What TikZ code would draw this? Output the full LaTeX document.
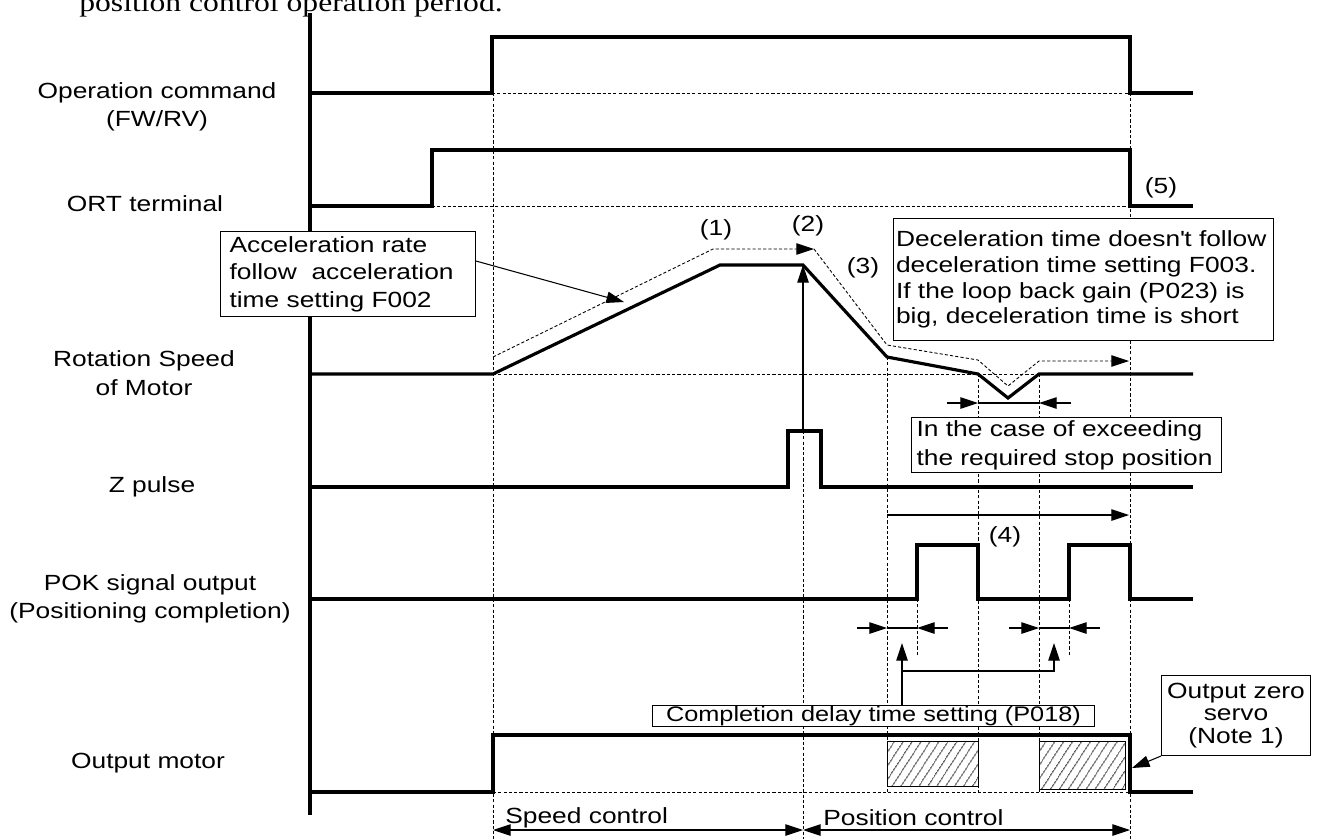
\documentclass[tikz,border=0pt]{standalone}
\usepackage{fontspec}
\setmainfont{Liberation Sans}[FakeStretch=1.2]
\newfontfamily\headfont{Liberation Serif}[FakeStretch=1.2]
\usetikzlibrary{arrows.meta,patterns.meta}
\tikzset{every node/.style={inner sep=0pt, font=\fontsize{12.5}{16.2}\selectfont},
  wave/.style={line width=1.8pt, line join=miter},
  guide/.style={line width=0.5pt, dash pattern=on 1.8pt off 1.2pt},
  pointer/.style={line width=0.6pt, -{Triangle[length=10pt,width=6.5pt]}},
  span/.style={line width=0.6pt, {Triangle[length=10pt,width=6.5pt]}-{Triangle[length=10pt,width=6.5pt]}},
  notebox/.style={draw, line width=0.6pt, fill=white, anchor=north west, align=left, inner ysep=0pt},
  hatch/.style={line width=0.5pt, pattern={Lines[angle=57,distance=4pt,line width=0.45pt]}}}

\begin{document}
\begin{tikzpicture}[x=0.02cm, y=-0.02cm]
  \useasboundingbox (0,0) rectangle (1318,839);

  % heading cut by the page edge
  \node[anchor=base west, font=\headfont\fontsize{15}{18}\selectfont] (head) at (79,11) {position control operation period.};

  % signal names
  \node[align=center] (lblrun)   at (157,107) {Operation command\\(FW/RV)};
  \node               (lblort)   at (145,204) {ORT terminal};
  \node[align=center] (lblspeed) at (144,373) {Rotation Speed\\of Motor};
  \node               (lblz)     at (152,487) {Z pulse};
  \node[align=center] (lblpok)   at (150,599) {POK signal output\\(Positioning completion)};
  \node               (lblout)   at (148,763) {Output motor};

  % time guides
  \draw[guide] (492,93) -- (1130,93);
  \draw[guide] (432,206) -- (1130,206);
  \draw[guide] (493,374) -- (1039,374);
  \draw[guide] (493,792) -- (1130,792);
  \draw[guide] (493,93) -- (493,839);
  \draw[guide] (1130,93) -- (1130,839);
  \draw[guide] (803,431) -- (803,839);
  \foreach \t/\y in {887/357,978/374,1039/374}
    \draw[guide] (\t,\y) -- (\t,792);
  \foreach \t in {917,1069}
    \draw[guide] (\t,599) -- (\t,655);

  % commanded speed profile
  \draw[guide,-{Triangle[length=10pt,width=6.5pt]}] (493,357) -- (713,249) -- (814,249);
  \draw[guide,-{Triangle[length=10pt,width=6.5pt]}] (814,249) -- (887,345) -- (978,360) -- (1008,386) -- (1039,361) -- (1129,361);

  % waveforms
  \draw[line width=1.9pt] (310,13) -- (310,815);
  \draw[wave] (310,93) -- (492,93) -- (492,37) -- (1130,37) -- (1130,93) -- (1193,93);
  \draw[wave] (310,206) -- (432,206) -- (432,150) -- (1130,150) -- (1130,206) -- (1193,206);
  \draw[wave] (310,374) -- (493,374) -- (720,265) -- (803,265) -- (887,357) -- (978,374) -- (1008,398) -- (1039,374) -- (1193,374);
  \draw[wave] (310,487) -- (788,487) -- (788,431) -- (821,431) -- (821,487) -- (1193,487);
  \draw[wave] (310,599) -- (917,599) -- (917,545) -- (978,545) -- (978,599) -- (1069,599) -- (1069,545) -- (1130,545) -- (1130,599) -- (1193,599);
  \draw[wave] (310,792) -- (493,792) -- (493,735) -- (1130,735) -- (1130,792) -- (1193,792);
  \draw[hatch] (887,741) rectangle (978,786);
  \draw[hatch] (1039,741) rectangle (1125,789);

  % marks
  \node (mark1) at (716,230) {(1)};
  \node (mark2) at (808,226) {(2)};
  \node (mark3) at (863,268) {(3)};
  \node (mark4) at (1005,537) {(4)};
  \node (mark5) at (1161,188) {(5)};

  % Z pulse to speed top, stop window
  \draw[pointer] (803,431) -- (803,265);
  \draw[pointer] (887,515) -- (1129,515);
  \draw[pointer] (947,403) -- (978,403);
  \draw[pointer] (1071,403) -- (1039,403);
  \draw[line width=0.6pt] (978,403) -- (1039,403);
  \foreach \a/\b in {887/917,1039/1069} {
    \draw[pointer] (\a-30,628) -- (\a,628);
    \draw[pointer] (\b+31,628) -- (\b,628);
    \draw[line width=0.6pt] (\a,628) -- (\b,628);
  }

  % notes
  \node[notebox, minimum width=5.1cm, minimum height=1.7cm, text width=4.74cm, inner xsep=0.18cm,
        font=\fontsize{12.5}{15.6}\selectfont] (accbox) at (220,231)
        {Acceleration rate\\follow\ \ acceleration\\time setting F002};
  \coordinate (accend) at (624,302);
  \draw[pointer] ([yshift=0.26cm]accbox.east) -- (accend);

  \node[notebox, minimum width=7.6cm, minimum height=2.44cm, text width=7.5cm, inner xsep=0.05cm,
        font=\fontsize{12.5}{14.6}\selectfont] (decbox) at (893,218)
        {Deceleration time doesn\textquotesingle t follow\\deceleration time setting F003.\\If the loop back gain (P023) is\\big, deceleration time is short};

  \node[notebox, minimum width=6.2cm, minimum height=1.1cm, text width=6.0cm, inner xsep=0.1cm,
        font=\fontsize{12.5}{16.5}\selectfont] (stopbox) at (911,417)
        {In the case of exceeding\\the required stop position};

  \node[notebox, align=center, minimum width=8.84cm, minimum height=0.42cm, inner xsep=0pt,
        font=\fontsize{12}{14}\selectfont] (p018) at (652,705)
        {Completion delay time setting (P018)};
  \coordinate (delay1) at (902,643);
  \coordinate (delay2) at (1054,643);
  \draw[pointer] (delay1 |- p018.north) -- (delay1);
  \draw[pointer] (902,671) -- (1054,671) -- (delay2);

  \node[notebox, align=center, minimum width=2.98cm, minimum height=1.6cm,
        font=\fontsize{12.5}{12.8}\selectfont] (servobox) at (1161,675)
        {Output zero\\servo\\(Note 1)};
  \coordinate (servoend) at (1132,768);
  \draw[pointer] (servobox.south west) -- (servoend);

  % control periods
  \node[anchor=west] (spdctl) at (505,818) {Speed control};
  \node[anchor=west] (posctl) at (823,818) {Position control};
  \draw[span] (493,830) -- (803,830);
  \draw[span] (803,830) -- (1130,830);
\end{tikzpicture}
\end{document}
